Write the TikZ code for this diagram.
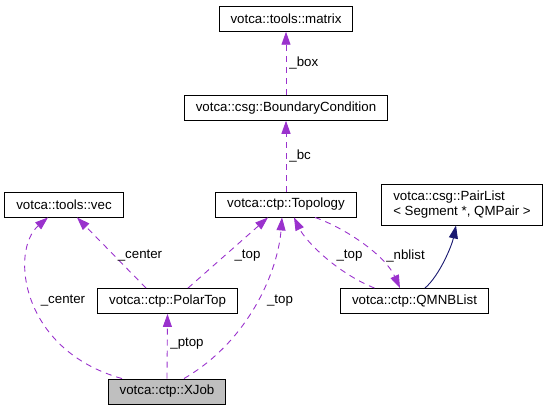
\documentclass[tikz,border=0pt]{standalone}
\usepackage{fontspec}
\setmainfont{Liberation Sans}
\usetikzlibrary{arrows.meta}
\definecolor{usepurple}{RGB}{154,50,205}
\definecolor{inhblue}  {RGB}{25,25,112}
\definecolor{curgray}  {RGB}{191,191,191}
\tikzset{
  clsbox/.style={draw=black, line width=0.9pt, fill=white,
                 minimum height=25pt, inner xsep=11.5pt, inner ysep=2pt,
                 font=\fontsize{13.3}{15.5}\selectfont, align=left},
  curbox/.style={clsbox, fill=curgray},
  usearr/.style={-{Triangle[length=13pt,width=9pt]}, draw=usepurple,
                 line width=0.9pt, dash pattern=on 6pt off 5pt},
  inharr/.style={-{Triangle[length=13pt,width=9pt]}, draw=inhblue,
                 line width=0.9pt},
  elabel/.style={font=\fontsize{13.3}{15.5}\selectfont, inner sep=0pt},
}
\begin{document}
\begin{tikzpicture}[x=1pt,y=-1pt]
  \useasboundingbox (0,0) rectangle (545,409);
  %% classes
  \node[clsbox] (matrix) at (286,18.8)  {votca::tools::matrix};
  \node[clsbox] (bc)     at (286,107.8) {votca::csg::BoundaryCondition};
  \node[clsbox] (topo)   at (286,204.5) {votca::ctp::Topology};
  \node[clsbox] (vec)    at (64,204.5)  {votca::tools::vec};
  \node[clsbox, minimum height=41pt] (pairlist) at (462,204.5)
        {votca::csg::PairList\\\textless{} Segment *, QMPair \textgreater};
  \node[clsbox] (polar)  at (167.5,301) {votca::ctp::PolarTop};
  \node[clsbox] (qmnb)   at (414.5,301) {votca::ctp::QMNBList};
  \node[curbox] (xjob)   at (167,391.5) {votca::ctp::XJob};
  %% usage edges
  \draw[usearr] (bc.north) -- (matrix.south)
        node[elabel, pos=0.5, right=3pt] (lbox) {\_box};
  \draw[usearr] (topo.north) -- (bc.south)
        node[elabel, pos=0.5, right=3pt] (lbc) {\_bc};
  \draw[usearr] ([xshift=-21.5pt]polar.north) -- ([xshift=13pt]vec.south);
  \draw[usearr] ([xshift=20.5pt]polar.north) -- ([xshift=-18pt]topo.south);
  \draw[usearr] ([xshift=-45pt]xjob.north)
        .. controls (20,350) and (10,250) .. ([xshift=-16pt]vec.south);
  \draw[usearr] (xjob.north) -- (polar.south);
  \draw[usearr] ([xshift=17pt]xjob.north)
        .. controls (250,340) and (278,270) .. ([xshift=-4pt]topo.south);
  \draw[usearr] ([xshift=-40pt]qmnb.north)
        .. controls (335,272) and (305,240) .. ([xshift=8pt]topo.south);
  \draw[usearr] ([xshift=29pt]topo.south)
        .. controls (345,228) and (385,255) .. ([xshift=-14.5pt]qmnb.north);
  %% inheritance edge
  \draw[inharr] ([xshift=10.5pt]qmnb.north)
        .. controls (440,275) and (452,245) .. ([xshift=-6pt]pairlist.south);
  %% edge labels
  \node[elabel] (lcenterp) at (140,256) {\_center};
  \node[elabel] (ltopp)    at (247.5,256) {\_top};
  \node[elabel] (ltopq)    at (349.5,256) {\_top};
  \node[elabel] (lnblist)  at (405.5,256) {\_nblist};
  \node[elabel] (lcenterx) at (63,301) {\_center};
  \node[elabel] (ltopx)    at (280,301) {\_top};
  \node[elabel] (lptop)    at (187,344) {\_ptop};
\end{tikzpicture}
\end{document}
